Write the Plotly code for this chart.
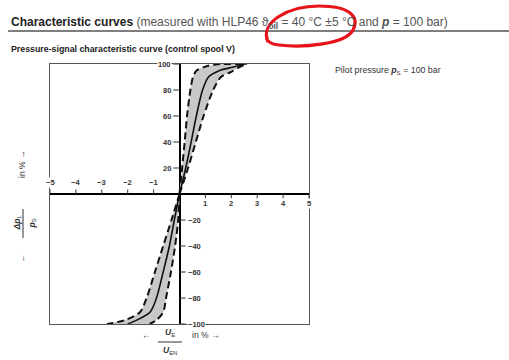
import plotly.graph_objects as go

# ---------------- data ----------------
# upper half: pilot-pressure ratio (%) vs. signal (%)
p_up = [0, 20, 40, 60, 80, 90, 95, 97.5, 100]
solid_up = [0, 0.24, 0.45, 0.65, 0.89, 1.12, 1.55, 2.05, 2.55]
p_up_left = [0, 20, 40, 60, 80, 90, 95, 98, 99.7, 100]
dash_left_up = [0, 0.1, 0.2, 0.29, 0.42, 0.52, 0.66, 1.0, 1.4, 2.6]
p_up_right = [0, 20, 40, 60, 80, 90, 94, 98, 100]
dash_right_up = [0, 0.33, 0.63, 0.93, 1.3, 1.6, 2.0, 2.35, 2.6]

# lower half
p_lo = [0, -20, -40, -60, -80, -91, -97, -100]
solid_lo = [0, -0.2, -0.39, -0.63, -0.89, -1.14, -1.65, -2.0]
dash_outer_lo = [0, -0.31, -0.63, -0.95, -1.27, -1.53, -2.1, -2.8]
dash_inner_lo = [0, -0.05, -0.17, -0.33, -0.52, -0.63, -0.89, -1.15]

x_ticks_neg = [-5, -4, -3, -2, -1]
x_ticks_pos = [1, 2, 3, 4, 5]
y_ticks_pos = [20, 40, 60, 80, 100]
y_ticks_neg = [-20, -40, -60, -80, -100]

# ---------------- figure ----------------
FONT = "Liberation Sans, Arial, sans-serif"
W, H = 509, 360
ML, MR, MT, MB = 50, 200, 64, 36
PW, PH = W - ML - MR, H - MT - MB


def px(x):
    return (x - ML) / PW


def py(y):
    return (H - MB - y) / PH


fig = go.Figure()

FILL = "#c8c8c8"
# shaded tolerance bands
fig.add_trace(go.Scatter(
    x=dash_left_up + dash_right_up[::-1],
    y=p_up_left + p_up_right[::-1],
    mode="lines", fill="toself", fillcolor=FILL,
    line=dict(width=0, shape="spline", smoothing=0.8), hoverinfo="skip", showlegend=False))
fig.add_trace(go.Scatter(
    x=dash_outer_lo + dash_inner_lo[::-1],
    y=p_lo + p_lo[::-1],
    mode="lines", fill="toself", fillcolor=FILL,
    line=dict(width=0, shape="spline", smoothing=0.8), hoverinfo="skip", showlegend=False))

DASH = dict(color="#111", width=2, dash="7px,4px", shape="spline", smoothing=0.8)
SOLID = dict(color="#111", width=1.6, shape="spline", smoothing=0.8)
for xs, ys in [(dash_left_up, p_up_left), (dash_right_up, p_up_right),
               (dash_outer_lo, p_lo), (dash_inner_lo, p_lo)]:
    fig.add_trace(go.Scatter(x=xs, y=ys, mode="lines", line=DASH, showlegend=False))
for xs, ys in [(solid_up, p_up), (solid_lo, p_lo)]:
    fig.add_trace(go.Scatter(x=xs, y=ys, mode="lines", line=SOLID, showlegend=False))

# tick marks through the axes
tx, ty = [], []
for v in x_ticks_neg:
    tx += [v, v, None]; ty += [0, 3.5, None]
for v in x_ticks_pos:
    tx += [v, v, None]; ty += [0, -3.5, None]
for v in y_ticks_pos:
    tx += [-0.24, 0, None]; ty += [v, v, None]
for v in y_ticks_neg:
    tx += [0, 0.24, None]; ty += [v, v, None]
fig.add_trace(go.Scatter(x=tx, y=ty, mode="lines", line=dict(color="#333", width=1),
                         showlegend=False, hoverinfo="skip"))

ann = []
TF = dict(family=FONT, size=7.5, color="#333")
for v in x_ticks_neg:
    ann.append(dict(x=v, y=9, xref="x", yref="y", text=f"<b>−{abs(v)}</b>", showarrow=False,
                    font=TF, bgcolor="white", borderpad=0))
for v in x_ticks_pos:
    ann.append(dict(x=v, y=-7, xref="x", yref="y", text=f"<b>{v}</b>", showarrow=False,
                    font=TF, bgcolor="white", borderpad=0))
for v in y_ticks_pos:
    ann.append(dict(x=-0.28, y=v, xref="x", yref="y", text=f"<b>{v}</b>", showarrow=False,
                    xanchor="right", font=TF, bgcolor="white", borderpad=0))
for v in y_ticks_neg:
    ann.append(dict(x=0.28, y=v, xref="x", yref="y", text=f"<b>−{abs(v)}</b>", showarrow=False,
                    xanchor="left", font=TF, bgcolor="white", borderpad=0))

# titles
ann.append(dict(x=px(9), y=py(23), xref="paper", yref="paper", xanchor="left", yanchor="middle",
                showarrow=False, align="left",
                text="<b>Characteristic curves</b> "
                     "<span style='color:#555'>(measured with HLP46 "
                     "ϑ<sub><b>oil</b></sub> = 40 °C ±5 °C and <b><i>p</i></b> = 100 bar)</span>",
                font=dict(family=FONT, size=12, color="#222")))
ann.append(dict(x=px(9), y=py(49), xref="paper", yref="paper", xanchor="left", yanchor="middle",
                showarrow=False, text="<b>Pressure-signal characteristic curve (control spool V)</b>",
                font=dict(family=FONT, size=8.8, color="#222")))
ann.append(dict(x=px(333), y=py(70), xref="paper", yref="paper", xanchor="left", yanchor="middle",
                showarrow=False, text="Pilot pressure <b><i>p</i></b><sub>S</sub> = 100 bar",
                font=dict(family=FONT, size=8.8, color="#333")))

LF = dict(family=FONT, size=8.5, color="#333")
# x-axis title: ← U_E / U_EN in % →
ann += [
    dict(x=px(146), y=py(342), text="←", font=LF),
    dict(x=px(170), y=py(340), yanchor="bottom", text="<b><i>U</i></b><sub>E</sub>", font=LF),
    dict(x=px(170), y=py(343), yanchor="top", text="<b><i>U</i></b><sub>EN</sub>", font=LF),
    dict(x=px(205), y=py(342), text="in % →", font=LF),
]
# y-axis title (rotated): ← Δp_L / p_S in % →
ann += [
    dict(x=px(14), y=py(265), text="←", font=LF, textangle=-90),
    dict(x=px(9), y=py(223), text="<b><i>Δp</i></b><sub>L</sub>", font=LF, textangle=-90),
    dict(x=px(24), y=py(224), text="<b><i>p</i></b><sub>S</sub>", font=LF, textangle=-90),
    dict(x=px(15), y=py(165), text="in % →", font=LF, textangle=-90),
]
for a in ann:
    a.setdefault("xref", "paper")
    a.setdefault("yref", "paper")
    a.setdefault("showarrow", False)

DX = 4  # red marking follows the heading text
shapes = [
    # heading underline
    dict(type="line", xref="paper", yref="paper", x0=px(8), x1=px(509), y0=py(31), y1=py(31),
         line=dict(color="#555", width=1.5)),
    # fraction bars
    dict(type="line", xref="paper", yref="paper", x0=px(158), x1=px(182), y0=py(342), y1=py(342),
         line=dict(color="#333", width=1)),
    dict(type="line", xref="paper", yref="paper", x0=px(23), x1=px(23), y0=py(209), y1=py(238),
         line=dict(color="#333", width=1)),
    # red hand-drawn marking
    dict(type="path", xref="paper", yref="paper",
         path=("M {},{} C {},{} {},{} {},{} C {},{} {},{} {},{} C {},{} {},{} {},{} "
               "C {},{} {},{} {},{}").format(
             px(264 + DX), py(42),
             px(255 + DX), py(22), px(285 + DX), py(6), px(315 + DX), py(6),
             px(345 + DX), py(6), px(356 + DX), py(16), px(349 + DX), py(30),
             px(342 + DX), py(44), px(300 + DX), py(48), px(275 + DX), py(45),
             px(265 + DX), py(44), px(262 + DX), py(40), px(263 + DX), py(36)),
         line=dict(color="#e8141c", width=3.2)),
]

fig.update_layout(
    width=W, height=H, margin=dict(l=ML, r=MR, t=MT, b=MB),
    paper_bgcolor="white", plot_bgcolor="white",
    showlegend=False, annotations=ann, shapes=shapes,
    xaxis=dict(range=[-5, 5], showgrid=False, showticklabels=False, ticks="",
               zeroline=True, zerolinecolor="#000", zerolinewidth=2.2,
               showline=True, linecolor="#555", linewidth=1, mirror=True, fixedrange=True),
    yaxis=dict(range=[-100, 100], showgrid=False, showticklabels=False, ticks="",
               zeroline=True, zerolinecolor="#000", zerolinewidth=2.2,
               showline=True, linecolor="#555", linewidth=1, mirror=True, fixedrange=True),
)

fig.write_html("out.html", config={"displayModeBar": False},
               post_script="document.body.style.margin='0';document.body.style.overflow='hidden';")
